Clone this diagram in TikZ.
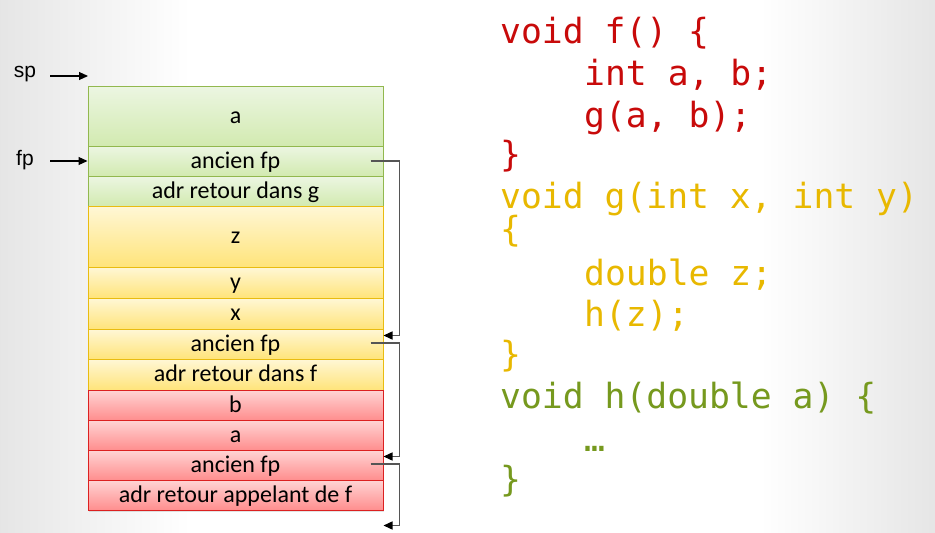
\documentclass[tikz,border=0pt]{standalone}
\usepackage{fontspec}
\setmainfont{Carlito}
\newfontfamily\labelfont{Liberation Sans}
\newfontfamily\codefont{DejaVu Sans Mono}
\usetikzlibrary{arrows.meta,shadows}

\definecolor{codered}{HTML}{C80A0A}
\definecolor{codeyellow}{HTML}{E8B800}
\definecolor{codegreen}{HTML}{76991E}
\definecolor{linkgray}{HTML}{555555}
\definecolor{gtop}{HTML}{ECF6E2}
\definecolor{gbot}{HTML}{D2EAB0}
\definecolor{gline}{HTML}{92B84E}
\definecolor{ytop}{HTML}{FFF7D6}
\definecolor{ybot}{HTML}{FFE47A}
\definecolor{yline}{HTML}{E9BC10}
\definecolor{rtop}{HTML}{FFD4D4}
\definecolor{rbot}{HTML}{FF8E8E}
\definecolor{rline}{HTML}{DC2020}

\begin{document}
\begin{tikzpicture}[x=1pt,y=-1pt,
  cell/.style={rectangle, minimum width=295pt, inner sep=0pt, line width=1pt,
    font=\fontsize{24}{24}\selectfont, text=black, text height=18pt, text depth=3.4pt,
    drop shadow={opacity=0.22, shadow xshift=0.8pt, shadow yshift=-1.6pt}},
  gcell/.style={cell, draw=gline, top color=gtop, bottom color=gbot},
  ycell/.style={cell, draw=yline, top color=ytop, bottom color=ybot},
  rcell/.style={cell, draw=rline, top color=rtop, bottom color=rbot},
  ptr/.style={-{Triangle[length=9pt,width=8pt]}, line width=1.1pt, black},
  link/.style={linkgray, line width=1.4pt, -{Triangle[length=9pt,width=8pt,color=black]}},
  code/.style={anchor=base west, inner sep=0pt, font=\codefont\fontsize{34.7}{34.7}\selectfont},
  plabel/.style={font=\labelfont\fontsize{21}{21}\selectfont}
]
\useasboundingbox (0,0) rectangle (935,533);

% slide background
\fill[white] (0,0) rectangle (935,533);
\shade[left color=gray!20, right color=white] (0,0) rectangle (190,533);
\shade[left color=white, right color=gray!20] (760,0) rectangle (935,533);

% stack frames
\node[gcell, minimum height=60pt] (fa)   at (235.5,116)   {a};
\node[gcell, minimum height=30pt] (ffp)  at (235.5,161)   {ancien fp};
\node[gcell, minimum height=30pt] (fret) at (235.5,191)   {adr retour dans g};
\node[ycell, minimum height=61pt] (gz)   at (235.5,236.5) {z};
\node[ycell, minimum height=31pt] (gy)   at (235.5,282.5) {y};
\node[ycell, minimum height=31pt] (gx)   at (235.5,313.5) {x};
\node[ycell, minimum height=30pt] (gfp)  at (235.5,344)   {ancien fp};
\node[ycell, minimum height=31pt] (gret) at (235.5,374.5) {adr retour dans f};
\node[rcell, minimum height=30pt] (hb)   at (235.5,405)   {b};
\node[rcell, minimum height=30pt] (ha)   at (235.5,435)   {a};
\node[rcell, minimum height=30pt] (hfp)  at (235.5,465)   {ancien fp};
\node[rcell, minimum height=30pt] (hret) at (235.5,495)   {adr retour appelant de f};

% stack and frame pointers
\node[plabel] (sp) at (25,74) {sp};
\node[plabel] (fp) at (25,160) {fp};
\coordinate (sptail) at (50,76);
\coordinate (sptip) at (88,76);
\coordinate (fptail) at (50,161);
\draw[ptr] (sptail) -- (sptip);
\draw[ptr] (fptail) -- (fptail -| ffp.west);

% saved frame pointer chain
\coordinate (s1) at ([xshift=-13pt]ffp.east);
\coordinate (s2) at ([xshift=-13pt,yshift=1pt]gfp.east);
\coordinate (s3) at ([xshift=-13pt,yshift=1pt]hfp.east);
\coordinate (e1) at ([yshift=-7pt]gfp.north east);
\coordinate (e2) at ([yshift=-7pt]hfp.north east);
\coordinate (e3) at ([yshift=-15pt]hret.south east);
\draw[link] (s2) -- ++(29,0) |- (e2);
\draw[link] (s1) -- ++(29,0) |- (e1);
\draw[link] (s3) -- ++(29,0) |- (e3);

% source code
\begin{scope}[text=codered]
\node[code] (c1) at (500,43)  {void f() \{};
\node[code] (c2) at (584,85)  {int a, b;};
\node[code] (c3) at (584,127) {g(a, b);};
\node[code] (c4) at (500,166) {\}};
\end{scope}
\begin{scope}[text=codeyellow]
\node[code] (c5) at (500,208.5) {void g(int x, int y)};
\node[code] (c6) at (500,241)   {\{};
\node[code] (c7) at (584,285.5) {double z;};
\node[code] (c8) at (584,326.5) {h(z);};
\node[code] (c9) at (500,366)   {\}};
\end{scope}
\begin{scope}[text=codegreen]
\node[code] (c10) at (500,408.5) {void h(double a) \{};
\node[code] (c11) at (584,451)   {…};
\node[code] (c12) at (500,491)   {\}};
\end{scope}
\end{tikzpicture}
\end{document}
